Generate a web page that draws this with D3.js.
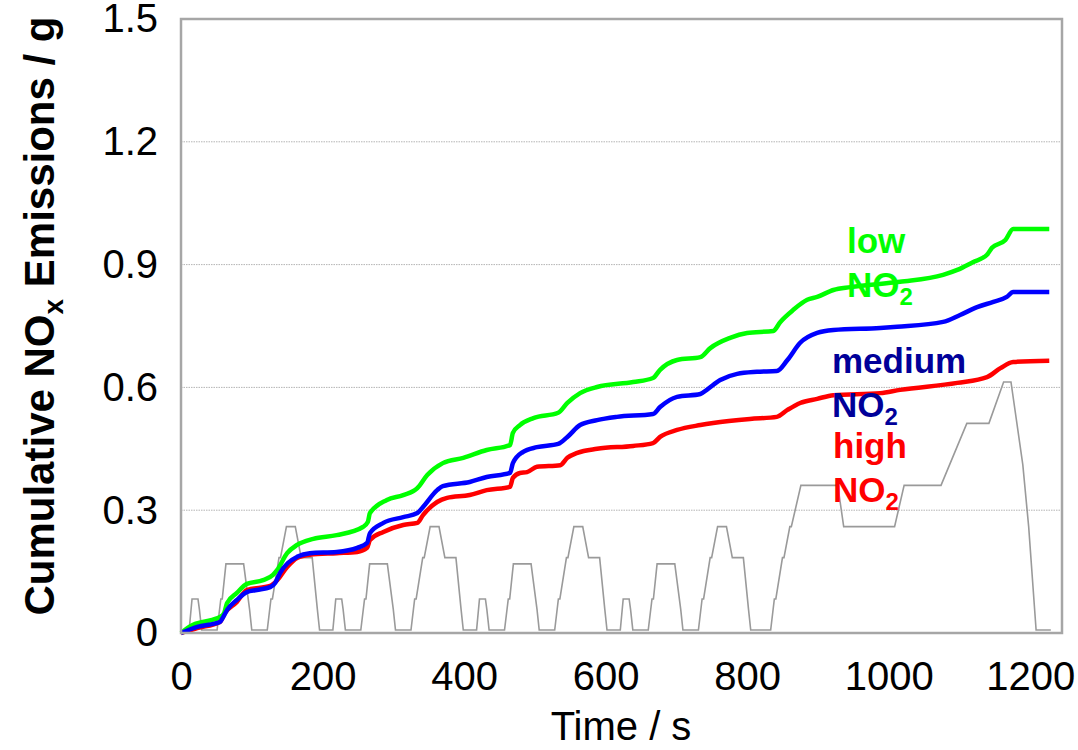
<!DOCTYPE html>
<html>
<head>
<meta charset="utf-8">
<script src="https://cdn.jsdelivr.net/npm/d3@7"></script>
<style>
  html, body { margin: 0; padding: 0; background: #fff; }
  svg { display: block; font-family: "Liberation Sans", Arial, sans-serif; }
</style>
</head>
<body>
<div id="chart"></div>
<script>
// tick labels
const xTicks = [0, 200, 400, 600, 800, 1000, 1200];
const yTicks = [0, 0.3, 0.6, 0.9, 1.2, 1.5];

// cumulative NOx, [time s, grams]
const lowNO2 = [
    [0, 0], [17, 0.020], [31, 0.027], [55, 0.039], [61, 0.049], [65, 0.073], [79, 0.098], [93, 0.120],
    [116, 0.129], [130, 0.142], [136, 0.154], [150, 0.195], [164, 0.215], [187, 0.230], [220, 0.239],
    [257, 0.259], [264, 0.271], [267, 0.293], [291, 0.325], [314, 0.337], [334, 0.354], [348, 0.386],
    [370, 0.415], [399, 0.428], [432, 0.447], [465, 0.459], [469, 0.489], [479, 0.508], [498, 0.525],
    [533, 0.538], [546, 0.562], [564, 0.586], [588, 0.601], [639, 0.613], [667, 0.623], [677, 0.643],
    [701, 0.667], [734, 0.674], [748, 0.696], [776, 0.721], [800, 0.733], [837, 0.738], [847, 0.760],
    [865, 0.789], [885, 0.814], [899, 0.821], [922, 0.838], [946, 0.845], [1016, 0.858], [1077, 0.875],
    [1097, 0.887], [1119, 0.906], [1139, 0.924], [1146, 0.941], [1165, 0.960], [1176, 0.987], [1227, 0.987]
];

const mediumNO2 = [
    [0, 0], [23, 0.015], [55, 0.027], [59, 0.037], [65, 0.056], [79, 0.081], [93, 0.100], [107, 0.105],
    [126, 0.112], [133, 0.122], [140, 0.147], [151, 0.171], [164, 0.186], [182, 0.195], [220, 0.198],
    [249, 0.208], [263, 0.220], [267, 0.244], [286, 0.269], [314, 0.283], [334, 0.293], [342, 0.308],
    [362, 0.349], [370, 0.359], [408, 0.369], [432, 0.381], [465, 0.391], [469, 0.415], [483, 0.442],
    [503, 0.454], [533, 0.462], [546, 0.479], [564, 0.508], [588, 0.520], [616, 0.528], [667, 0.535],
    [677, 0.552], [701, 0.577], [734, 0.584], [743, 0.594], [762, 0.618], [786, 0.633], [814, 0.638],
    [842, 0.640], [857, 0.667], [875, 0.709], [899, 0.733], [922, 0.740], [988, 0.745], [1012, 0.748],
    [1077, 0.760], [1101, 0.777], [1125, 0.796], [1148, 0.809], [1167, 0.821], [1176, 0.833], [1227, 0.833]
];

const highNO2 = [
    [0, 0], [23, 0.012], [55, 0.027], [62, 0.049], [79, 0.076], [93, 0.105], [126, 0.115], [136, 0.129],
    [150, 0.161], [164, 0.183], [182, 0.191], [220, 0.195], [249, 0.198], [263, 0.208], [267, 0.227],
    [286, 0.247], [314, 0.264], [334, 0.269], [342, 0.288], [362, 0.320], [376, 0.330], [408, 0.337],
    [432, 0.349], [465, 0.357], [469, 0.379], [479, 0.391], [489, 0.393], [503, 0.406], [536, 0.410],
    [546, 0.428], [560, 0.440], [588, 0.450], [639, 0.457], [667, 0.464], [677, 0.479], [701, 0.496],
    [734, 0.508], [752, 0.513], [804, 0.523], [842, 0.528], [857, 0.545], [875, 0.562], [899, 0.572],
    [922, 0.581], [988, 0.586], [1016, 0.594], [1097, 0.611], [1139, 0.625], [1158, 0.647], [1176, 0.662],
    [1227, 0.665]
];

// driving cycle speed trace, [time s, km/h]
const speedTrace = [
    [0, 0], [11.5, 0], [15.6, 15], [24, 15], [26, 10], [29.2, 0], [51, 0], [56.3, 15], [58.3, 15], [63.5, 32],
    [88.5, 32], [96.9, 10], [100, 0], [121.9, 0], [127.1, 15], [129.2, 15], [138.5, 35], [140.6, 35], [149, 50],
    [161.5, 50], [169.8, 35], [183.3, 35], [185.4, 35], [192.7, 10], [195.8, 0],
    [203.1, 0], [214.6, 0], [218.7, 15], [227.1, 15], [229.1, 10], [232.3, 0], [254.1, 0], [259.4, 15], [261.4, 15],
    [266.6, 32], [291.6, 32], [300, 10], [303.1, 0], [325, 0], [330.2, 15], [332.3, 15], [341.6, 35], [343.7, 35],
    [352.1, 50], [364.6, 50], [372.9, 35], [386.4, 35], [388.5, 35], [395.8, 10], [398.9, 0],
    [406.2, 0], [417.7, 0], [421.8, 15], [430.2, 15], [432.2, 10], [435.4, 0], [457.2, 0], [462.5, 15], [464.5, 15],
    [469.7, 32], [494.7, 32], [503.1, 10], [506.2, 0], [528.1, 0], [533.3, 15], [535.4, 15], [544.7, 35], [546.8, 35],
    [555.2, 50], [567.7, 50], [576, 35], [589.5, 35], [591.6, 35], [598.9, 10], [602, 0],
    [609.3, 0], [620.8, 0], [624.9, 15], [633.3, 15], [635.3, 10], [638.5, 0], [660.3, 0], [665.6, 15], [667.6, 15],
    [672.8, 32], [697.8, 32], [706.2, 10], [709.3, 0], [731.2, 0], [736.4, 15], [738.5, 15], [747.8, 35], [749.9, 35],
    [758.3, 50], [770.8, 50], [779.1, 35], [792.6, 35], [794.7, 35], [802, 10], [805.1, 0],
    [812.5, 0], [833.3, 0], [838.5, 15], [840.6, 15], [850, 35], [852.1, 35], [860.4, 50], [862.5, 50], [876, 70],
    [928.1, 70], [936.5, 50], [1008.4, 50], [1021.9, 70], [1074, 70], [1110.5, 100], [1141.7, 100], [1162.5, 120],
    [1172.9, 120], [1189.6, 80], [1197.9, 50], [1208.4, 0], [1229.2, 0]
];

const width = 1078, height = 750;
const svg = d3.select('#chart').append('svg')
    .attr('width', width)
    .attr('height', height);

const x = d3.scaleLinear().domain([0, 1245]).range([181, 1062]);
const y = d3.scaleLinear().domain([0, 1.5]).range([633, 19]);
// speed trace sits on its own (hidden) scale
const ySpeed = d3.scaleLinear().domain([0, 120]).range([630, 382]);

// gridlines
svg.append('g')
    .selectAll('line')
    .data(yTicks.filter(d => d > 0 && d < 1.5))
    .join('line')
    .attr('x1', x.range()[0]).attr('x2', x.range()[1])
    .attr('y1', d => y(d)).attr('y2', d => y(d))
    .attr('stroke', '#b4b4b4')
    .attr('stroke-width', 1)
    .attr('stroke-dasharray', '1.5,1');

// speed trace
svg.append('path')
    .datum(speedTrace)
    .attr('fill', 'none')
    .attr('stroke', '#9a9a9a')
    .attr('stroke-width', 1.6)
    .attr('d', d3.line().x(d => x(d[0])).y(d => ySpeed(d[1])));

const series = [
    { data: highNO2, color: '#ff0000' },
    { data: lowNO2, color: '#00ff00' },
    { data: mediumNO2, color: '#0000ff' }
];

const line = d3.line()
    .x(d => x(d[0]))
    .y(d => y(d[1]))
    .curve(d3.curveMonotoneX);

series.forEach(s => {
    svg.append('path')
        .datum(s.data)
        .attr('fill', 'none')
        .attr('stroke', s.color)
        .attr('stroke-width', 4.5)
        .attr('stroke-linejoin', 'round')
        .attr('d', line);
});

// plot frame
svg.append('rect')
    .attr('x', x.range()[0]).attr('y', y.range()[1])
    .attr('width', x.range()[1] - x.range()[0])
    .attr('height', y.range()[0] - y.range()[1])
    .attr('fill', 'none')
    .attr('stroke', '#a6a6a6')
    .attr('stroke-width', 2.5);

// axes
const xAxis = svg.append('g')
    .attr('transform', `translate(0,${y.range()[0]})`)
    .call(d3.axisBottom(x).tickValues(xTicks).tickSize(0).tickPadding(29).tickFormat(d3.format('d')));
const yAxis = svg.append('g')
    .attr('transform', `translate(${x.range()[0]},0)`)
    .call(d3.axisLeft(y).tickValues(yTicks).tickSize(0).tickPadding(23).tickFormat(d => d === 0 ? '0' : d3.format('.1f')(d)));

[xAxis, yAxis].forEach(a => {
    a.select('.domain').remove();
    a.selectAll('text')
        .attr('fill', '#000')
        .style('font-family', '"Liberation Sans", Arial, sans-serif')
        .style('font-size', '40px');
});

// axis titles
svg.append('text')
    .attr('x', 621).attr('y', 740)
    .attr('text-anchor', 'middle')
    .style('font-size', '40px')
    .text('Time / s');

const yTitle = svg.append('text')
    .attr('transform', 'translate(54,316) rotate(-90)')
    .attr('text-anchor', 'middle')
    .style('font-size', '42px')
    .style('font-weight', 'bold');
yTitle.append('tspan').text('Cumulative NO');
yTitle.append('tspan').text('x').style('font-size', '28px').attr('dy', 9);
yTitle.append('tspan').text(' Emissions / g').attr('dy', -9);

// series labels
const labels = [
    { lines: ['low', 'NO'], x: 847, y: 253, color: '#00ff00' },
    { lines: ['medium', 'NO'], x: 832, y: 373, color: '#000099' },
    { lines: ['high', 'NO'], x: 833, y: 458, color: '#ff0000' }
];

labels.forEach(l => {
    svg.append('text')
        .attr('x', l.x).attr('y', l.y)
        .attr('fill', l.color)
        .style('font-size', '35px')
        .style('font-weight', 'bold')
        .text(l.lines[0]);
    const t = svg.append('text')
        .attr('x', l.x).attr('y', l.y + 44)
        .attr('fill', l.color)
        .style('font-size', '35px')
        .style('font-weight', 'bold');
    t.append('tspan').text(l.lines[1]);
    t.append('tspan').text('2').style('font-size', '24px').attr('dy', 8);
});
</script>
</body>
</html>
